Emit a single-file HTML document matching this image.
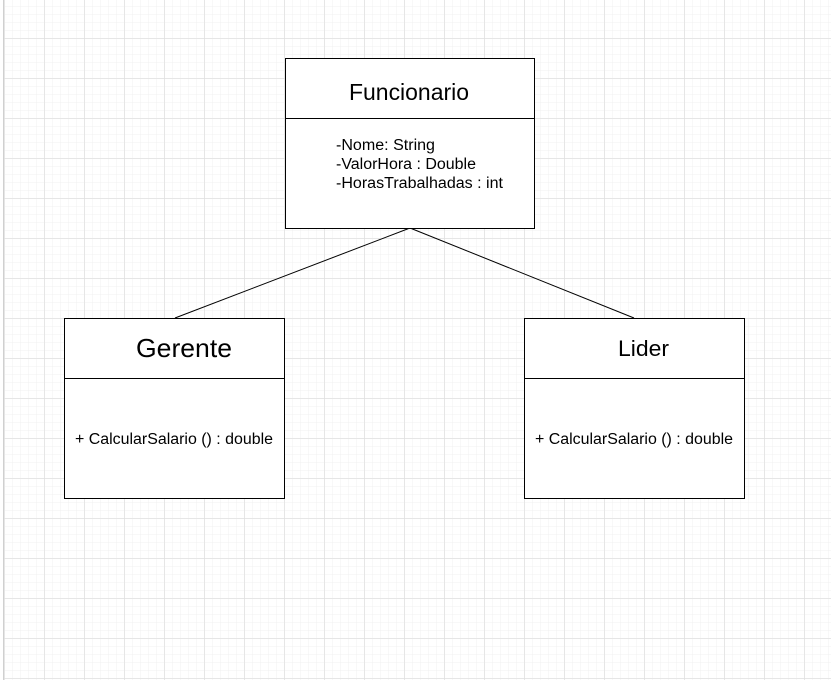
<!DOCTYPE html>
<html><head><meta charset="utf-8"><style>
html,body{margin:0;padding:0;background:#fff}
svg{display:block}
text{font-family:"Liberation Sans",Arial,sans-serif;fill:#000}
</style></head><body>
<svg width="831" height="680" viewBox="0 0 831 680" xmlns="http://www.w3.org/2000/svg">
<defs>
<pattern id="minor" x="4" y="-2" width="8" height="8" patternUnits="userSpaceOnUse">
<path d="M0 0H8M0 0V8" stroke="#f0f0f0" stroke-width="1" fill="none"/>
</pattern>
<pattern id="major" x="4.5" y="-1.5" width="40" height="40" patternUnits="userSpaceOnUse">
<path d="M0 0H40M0 0V40" stroke="#dcdcdc" stroke-width="1" fill="none"/>
</pattern>
</defs>
<rect width="831" height="680" fill="#fff"/>
<rect x="4" width="827" height="680" fill="url(#minor)"/>
<rect x="4" width="827" height="680" fill="url(#major)"/>
<line x1="3.5" y1="0" x2="3.5" y2="680" stroke="#d0d0d0"/>
<g stroke="#000" stroke-width="1" fill="#fff">
<line x1="410" y1="228" x2="175" y2="318"/>
<line x1="410" y1="228" x2="634" y2="318"/>
<rect x="285.5" y="58.5" width="249" height="170"/>
<line x1="285" y1="118.5" x2="534" y2="118.5"/>
<rect x="64.5" y="318.5" width="220" height="180"/>
<line x1="64" y1="378.5" x2="284" y2="378.5"/>
<rect x="524.5" y="318.5" width="220" height="180"/>
<line x1="524" y1="378.5" x2="744" y2="378.5"/>
</g>
<text x="349" y="100" font-size="23" textLength="120" lengthAdjust="spacingAndGlyphs">Funcionario</text>
<text x="336" y="150" font-size="15.5" textLength="99" lengthAdjust="spacingAndGlyphs">-Nome: String</text>
<text x="336" y="169" font-size="15.5" textLength="140" lengthAdjust="spacingAndGlyphs">-ValorHora : Double</text>
<text x="336" y="188" font-size="15.5" textLength="167" lengthAdjust="spacingAndGlyphs">-HorasTrabalhadas : int</text>
<text x="136" y="357" font-size="26" textLength="96" lengthAdjust="spacingAndGlyphs">Gerente</text>
<text x="75" y="444" font-size="15.5" textLength="198" lengthAdjust="spacingAndGlyphs">+ CalcularSalario () : double</text>
<text x="618" y="356" font-size="22" textLength="51" lengthAdjust="spacingAndGlyphs">Lider</text>
<text x="535" y="444" font-size="15.5" textLength="198" lengthAdjust="spacingAndGlyphs">+ CalcularSalario () : double</text>
</svg>
</body></html>
